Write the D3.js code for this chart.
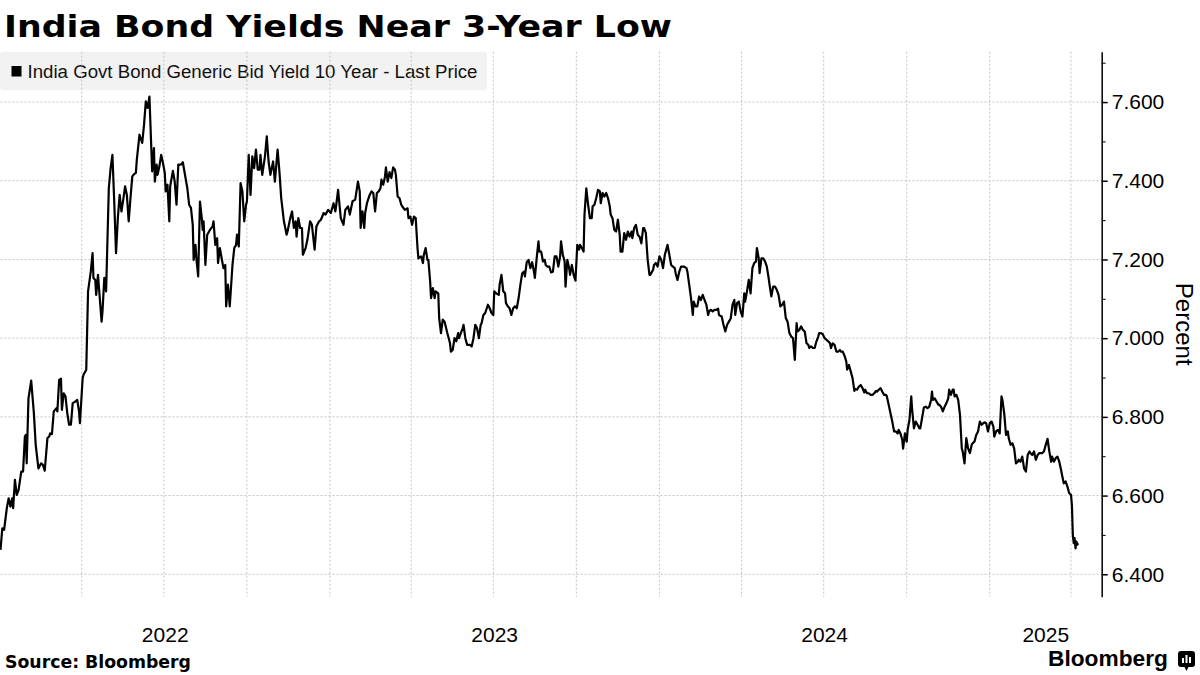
<!DOCTYPE html>
<html>
<head>
<meta charset="utf-8">
<script src="https://cdn.jsdelivr.net/npm/d3@7"></script>
<style>
  body { margin: 0; background: #fff; }
  svg { display: block; }
</style>
</head>
<body>
<svg id="chart" width="1200" height="675"></svg>
<script>
/* India 10Y generic bid yield */

var startDate = "2022-01-01";   // day 0 of dayOffsets, also left edge of the axis
var endDate = "2025-05-05";     // right edge of the time axis

// calendar days since startDate
var dayOffsets = [
  0,2,4,7,9,11,13,14,16,18,20,23,25,27,28,29,31,34,37,39,
  42,45,47,49,52,54,55,57,59,62,63,65,67,68,70,72,74,76,78,80,
  83,85,87,88,91,92,95,97,100,102,103,105,106,108,112,113,115,117,120,122,
  124,126,128,130,132,134,136,138,140,142,144,146,148,150,151,154,157,159,161,163,
  165,167,168,170,171,173,174,176,178,180,182,183,185,187,188,191,193,195,197,200,
  202,205,207,209,211,213,214,216,217,219,221,223,224,225,227,229,232,235,236,238,
  240,241,243,245,247,249,250,252,254,257,259,261,262,264,266,268,270,272,273,275,
  277,279,281,283,285,287,288,290,293,295,297,299,302,304,307,309,311,314,317,318,
  321,323,325,327,328,330,332,334,335,338,340,343,345,348,350,353,355,358,360,363,
  366,369,371,372,374,377,380,382,385,387,390,393,396,398,399,401,403,
  404,406,409,411,413,415,417,419,421,422,424,426,427,429,431,433,435,437,438,440,
  442,444,446,448,451,452,454,456,458,460,462,463,466,468,469,471,473,474,476,477,
  479,481,482,485,486,488,490,492,495,497,498,499,501,503,505,507,508,510,512,513,
  515,517,520,522,524,526,528,530,532,533,535,537,540,542,544,546,547,549,552,553,
  555,557,559,560,562,564,566,568,570,572,574,576,578,580,581,583,585,587,589,591,
  592,594,596,597,599,601,603,604,606,608,610,612,614,616,618,620,621,623,625,626,
  628,630,631,633,635,637,639,641,642,644,646,647,649,651,653,655,656,658,660,662,
  664,665,667,669,671,673,675,676,678,680,682,684,686,687,689,691,693,695,697,699,
  700,702,704,706,708,710,712,713,715,717,719,720,723,724,726,728,730,732,734,736,
  737,739,741,743,745,747,748,750,752,754,757,760,761,763,765,767,768,770,772,774,
  776,778,780,782,784,785,787,789,791,793,795,796,799,801,803,805,807,
  809,811,813,814,816,818,820,822,824,825,827,829,831,833,835,837,838,840,841,843,
  845,847,849,851,852,854,856,858,860,862,864,866,868,870,872,874,876,878,880,882,
  883,885,887,889,891,893,895,896,898,900,902,904,906,907,909,911,913,915,917,919,
  920,922,924,926,928,930,931,933,935,937,938,940,942,944,946,947,949,951,953,955,
  957,958,960,962,964,966,968,970,971,973,975,977,979,981,982,984,986,988,990,992,
  994,995,997,999,1000,1002,1004,1005,1007,1009,1010,1012,1014,1016,1018,1019,1021,1023,1025,1027,
  1029,1031,1032,1033,1035,1037,1039,1040,1042,1044,1046,1048,1050,1051,1053,1055,1056,1057,1059,1061,
  1063,1065,1066,1068,1070,1072,1074,1076,1077,1079,1081,1083,1085,1087,1089,1090,1092,1094,1096,1098,
  1100,1101,1103,1105,1107,1109,1110,1112,1114,1116,1117,1119,1121,1123,1125,1127,1128,1130,1132,1134,
  1136,1138,1140,1141,1143,1145,1147,1149,1151,1152,1154,1156,1158,1160,1162,1164,1165,1167,1169,1171,
  1173,1175,1176,1178,1180,1182,1184,1186,1187,1188,1189,1190,1191,1192,1193,1194
];

// yield in percent, same order as dayOffsets
var yields = [
  6.462,6.517,6.513,6.568,6.593,6.572,6.593,6.568,6.640,6.602,6.614,6.661,6.661,6.750,6.754,6.682,6.847,6.892,6.809,6.729,
  6.669,6.682,6.678,6.663,6.746,6.750,6.758,6.756,6.814,6.822,6.814,6.894,6.897,6.818,6.860,6.852,6.809,6.780,6.780,6.835,
  6.839,6.843,6.814,6.784,6.898,6.907,6.920,7.119,7.169,7.216,7.153,7.148,7.110,7.161,7.042,7.068,7.153,7.119,7.381,7.432,
  7.466,7.347,7.216,7.305,7.364,7.322,7.352,7.386,7.364,7.297,7.356,7.411,7.417,7.420,7.453,7.517,7.496,7.542,7.602,7.585,
  7.614,7.487,7.424,7.483,7.398,7.441,7.415,7.436,7.466,7.445,7.420,7.373,7.390,7.297,7.386,7.425,7.398,7.339,7.441,7.441,
  7.447,7.407,7.381,7.339,7.331,7.288,7.199,7.237,7.203,7.157,7.347,7.305,7.275,7.297,7.186,7.263,7.275,7.284,7.297,7.237,
  7.254,7.191,7.229,7.203,7.178,7.186,7.081,7.136,7.081,7.186,7.229,7.237,7.263,7.233,7.394,7.373,7.297,7.339,7.347,7.466,
  7.364,7.462,7.432,7.479,7.428,7.428,7.466,7.415,7.462,7.513,7.449,7.415,7.449,7.398,7.479,7.424,7.356,7.297,7.263,7.271,
  7.305,7.322,7.280,7.297,7.258,7.305,7.280,7.280,7.212,7.229,7.250,7.297,7.288,7.225,7.284,7.297,7.301,7.318,7.314,7.326,
  7.318,7.343,7.322,7.339,7.377,7.305,7.288,7.326,7.335,7.314,7.348,7.352,7.398,7.373,7.280,7.322,7.280,
  7.318,7.343,7.364,7.373,7.369,7.322,7.369,7.373,7.381,7.403,7.390,7.411,7.434,7.398,7.422,7.407,7.434,7.428,7.415,7.360,
  7.356,7.339,7.332,7.326,7.330,7.305,7.309,7.288,7.309,7.305,7.229,7.203,7.208,7.191,7.212,7.229,7.199,7.199,7.144,7.102,
  7.127,7.102,7.119,7.114,7.051,7.013,7.047,7.042,7.013,6.996,6.987,6.966,6.970,7.000,6.992,7.013,7.000,7.013,7.025,7.034,
  7.000,6.983,6.983,6.979,7.000,7.034,7.025,7.000,7.034,7.038,7.059,7.064,7.085,7.076,7.064,7.059,7.119,7.114,7.110,7.136,
  7.161,7.119,7.114,7.089,7.081,7.076,7.059,7.076,7.081,7.076,7.102,7.136,7.165,7.169,7.157,7.193,7.199,7.178,7.193,7.169,
  7.153,7.203,7.246,7.220,7.220,7.195,7.199,7.186,7.182,7.182,7.167,7.169,7.208,7.208,7.182,7.208,7.246,7.212,7.195,7.131,
  7.199,7.178,7.161,7.186,7.161,7.146,7.237,7.225,7.237,7.229,7.220,7.314,7.381,7.339,7.305,7.305,7.335,7.339,7.356,7.377,
  7.373,7.343,7.369,7.360,7.369,7.356,7.335,7.314,7.305,7.275,7.271,7.301,7.263,7.220,7.220,7.267,7.250,7.271,7.258,7.271,
  7.254,7.280,7.288,7.263,7.258,7.241,7.280,7.280,7.267,7.199,7.161,7.161,7.174,7.186,7.191,7.182,7.208,7.199,7.178,7.212,
  7.220,7.237,7.212,7.186,7.182,7.178,7.165,7.148,7.169,7.182,7.182,7.178,7.169,7.136,7.102,7.059,7.093,7.081,7.081,7.106,
  7.097,7.110,7.097,7.085,7.059,7.068,7.072,7.068,7.072,7.072,7.075,7.059,7.055,7.034,7.017,7.034,7.042,
  7.050,7.085,7.097,7.059,7.089,7.093,7.068,7.055,7.114,7.093,7.119,7.148,7.114,7.178,7.191,7.195,7.229,7.203,7.165,7.203,
  7.203,7.195,7.182,7.153,7.136,7.106,7.131,7.131,7.123,7.110,7.081,7.085,7.093,7.051,7.042,7.013,7.004,7.000,6.945,7.038,
  7.017,7.021,7.030,7.021,7.017,6.987,6.983,6.975,6.979,6.975,6.975,6.992,7.004,7.013,7.013,7.010,7.000,6.996,6.992,6.987,
  6.975,6.987,6.983,6.966,6.966,6.970,6.966,6.966,6.956,6.941,6.920,6.932,6.915,6.898,6.866,6.871,6.869,6.877,6.881,6.873,
  6.862,6.869,6.860,6.860,6.856,6.856,6.860,6.866,6.864,6.869,6.873,6.864,6.856,6.856,6.852,6.831,6.809,6.788,6.763,6.763,
  6.758,6.767,6.758,6.742,6.719,6.758,6.737,6.767,6.792,6.852,6.818,6.771,6.788,6.780,6.771,6.771,6.797,6.824,6.826,6.822,
  6.826,6.843,6.864,6.843,6.847,6.839,6.831,6.831,6.826,6.814,6.826,6.835,6.847,6.869,6.856,6.869,6.869,6.852,6.856,6.843,
  6.805,6.720,6.712,6.682,6.746,6.720,6.708,6.729,6.733,6.737,6.754,6.763,6.788,6.780,6.784,6.786,6.784,6.763,6.784,6.788,
  6.775,6.750,6.763,6.767,6.758,6.852,6.843,6.809,6.754,6.763,6.746,6.729,6.733,6.720,6.682,6.686,6.691,6.686,6.699,6.669,
  6.661,6.703,6.712,6.708,6.703,6.712,6.691,6.703,6.708,6.708,6.708,6.712,6.729,6.744,6.712,6.686,6.699,6.686,6.695,6.699,
  6.686,6.665,6.653,6.631,6.636,6.623,6.606,6.602,6.576,6.500,6.479,6.492,6.466,6.483,6.475,6.479
];

var yearLabels = ["2022", "2023", "2024", "2025"];
var yTicks = [6.4, 6.6, 6.8, 7.0, 7.2, 7.4, 7.6];
var yMinorTicks = [6.5, 6.7, 6.9, 7.1, 7.3, 7.5, 7.7];
var yDomain = [6.343, 7.728];

var titleText = "India Bond Yields Near 3-Year Low";
var legendText = "India Govt Bond Generic Bid Yield 10 Year - Last Price";
var yAxisTitle = "Percent";
var sourceText = "Source: Bloomberg";

var svg = d3.select("#chart");
var plotLeft = 0.5, plotRight = 1101.7, plotTop = 51.7, plotBottom = 596.7;

var parseDay = d3.utcParse("%Y-%m-%d");
var t0 = parseDay(startDate), t1 = parseDay(endDate);
var data = dayOffsets.map(function(d, i) {
  return { date: d3.utcDay.offset(t0, d), y: yields[i] };
});

var x = d3.scaleUtc().domain([t0, t1]).range([plotLeft, plotRight]);
var y = d3.scaleLinear().domain(yDomain).range([plotBottom, plotTop]);

var sans = "'Liberation Sans', Arial, sans-serif";

// title
svg.append("text")
    .attr("x", 4).attr("y", 37)
    .attr("font-family", "'DejaVu Sans', sans-serif")
    .attr("font-weight", "bold")
    .attr("font-size", 30)
    .attr("textLength", 668).attr("lengthAdjust", "spacingAndGlyphs")
    .text(titleText);

// legend box sits under the grid
var legend = svg.append("g");
legend.append("rect")
    .attr("x", 0).attr("y", plotTop).attr("width", 487).attr("height", 38.5)
    .attr("rx", 3).attr("fill", "#f2f2f2");
legend.append("rect")
    .attr("x", 11.5).attr("y", 66).attr("width", 10).attr("height", 10.5)
    .attr("fill", "#000");
legend.append("text")
    .attr("x", 27.5).attr("y", 78.3)
    .attr("font-family", sans).attr("font-size", 18)
    .attr("textLength", 450).attr("lengthAdjust", "spacingAndGlyphs")
    .attr("fill", "#111")
    .text(legendText);

// grid
var grid = svg.append("g")
    .attr("stroke", "#c4c4c4").attr("stroke-width", 1)
    .attr("stroke-dasharray", "2,2").attr("fill", "none");

grid.selectAll(".hgrid")
  .data(yTicks)
  .enter().append("line")
    .attr("class", "hgrid")
    .attr("x1", plotLeft).attr("x2", plotRight)
    .attr("y1", function(d) { return y(d); })
    .attr("y2", function(d) { return y(d); });

var quarters = x.ticks(d3.utcMonth.every(3)).filter(function(d) { return d > t0; });
grid.selectAll(".vgrid")
  .data(quarters)
  .enter().append("line")
    .attr("class", "vgrid")
    .attr("x1", function(d) { return x(d); })
    .attr("x2", function(d) { return x(d); })
    .attr("y1", plotTop).attr("y2", plotBottom);

// the yield line
var line = d3.line()
    .x(function(d) { return x(d.date); })
    .y(function(d) { return y(d.y); });

svg.append("path")
    .datum(data)
    .attr("d", line)
    .attr("fill", "none")
    .attr("stroke", "#000")
    .attr("stroke-width", 2.2)
    .attr("stroke-linejoin", "round");

// right axis: labelled majors and small minors
var yAxis = svg.append("g")
    .attr("transform", "translate(" + plotRight + ",0)")
    .call(d3.axisRight(y)
      .tickValues(yTicks)
      .tickFormat(d3.format(".3f"))
      .tickSize(6)
      .tickPadding(4)
      .tickSizeOuter(0));

yAxis.select(".domain").attr("stroke", "#000").attr("stroke-width", 1.5);
yAxis.selectAll(".tick line").attr("stroke", "#000").attr("stroke-width", 1.5);
yAxis.selectAll(".tick text")
    .attr("font-family", sans).attr("font-size", 21).attr("fill", "#000");

var yMinor = svg.append("g")
    .attr("transform", "translate(" + plotRight + ",0)")
    .call(d3.axisRight(y).tickValues(yMinorTicks).tickFormat("").tickSize(4).tickSizeOuter(0));
yMinor.select(".domain").remove();
yMinor.selectAll(".tick line").attr("stroke", "#000").attr("stroke-width", 1);

svg.append("text")
    .attr("transform", "translate(1176," + ((plotTop + plotBottom) / 2) + ") rotate(90)")
    .attr("text-anchor", "middle")
    .attr("font-family", sans).attr("font-size", 24).attr("fill", "#000")
    .text(yAxisTitle);

// year labels, centred on the visible part of each year
svg.append("g").selectAll("text")
  .data(yearLabels)
  .enter().append("text")
    .attr("x", function(d) {
      var a = d3.max([parseDay(d + "-01-01"), t0]);
      var b = d3.min([parseDay((+d + 1) + "-01-01"), t1]);
      return (x(a) + x(b)) / 2;
    })
    .attr("y", 642)
    .attr("text-anchor", "middle")
    .attr("font-family", sans).attr("font-size", 21).attr("fill", "#000")
    .text(function(d) { return d; });

// footer
svg.append("text")
    .attr("x", 5).attr("y", 668)
    .attr("font-family", "'DejaVu Sans', sans-serif")
    .attr("font-weight", "bold").attr("font-size", 17)
    .attr("textLength", 186).attr("lengthAdjust", "spacingAndGlyphs")
    .text(sourceText);

svg.append("text")
    .attr("x", 1048).attr("y", 666)
    .attr("font-family", sans)
    .attr("font-weight", "bold").attr("font-size", 22)
    .attr("textLength", 120).attr("lengthAdjust", "spacingAndGlyphs")
    .text("Bloomberg");

// small logo mark
var logo = svg.append("g").attr("transform", "translate(1178,651)");
logo.append("rect").attr("width", 17).attr("height", 16).attr("rx", 3).attr("fill", "#000");
logo.append("path").attr("d", "M6,15 L8.5,20 L11,15 Z").attr("fill", "#000");
logo.selectAll(".bar")
  .data([[4, 7], [7.5, 4], [11, 6]])
  .enter().append("rect")
    .attr("x", function(d) { return d[0]; })
    .attr("y", function(d) { return d[1]; })
    .attr("width", 2)
    .attr("height", function(d) { return 12 - d[1]; })
    .attr("fill", "#fff");
</script>
</body>
</html>
